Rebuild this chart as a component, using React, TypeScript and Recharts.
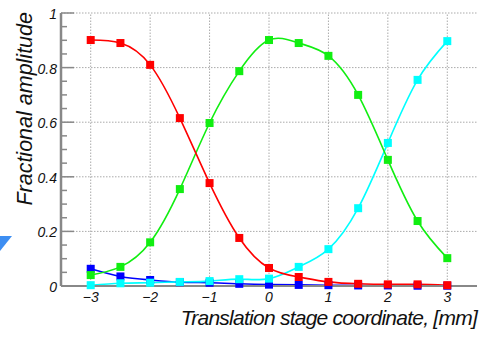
import React from "react";
import { LineChart, Line, XAxis, YAxis, ReferenceLine } from "recharts";

const xs = [-3, -2.5, -2, -1.5, -1, -0.5, 0, 0.5, 1, 1.5, 2, 2.5, 3];
const red = [0.901, 0.89, 0.81, 0.615, 0.377, 0.176, 0.066, 0.033, 0.015, 0.008, 0.006, 0.006, 0.003];
const green = [0.04, 0.07, 0.16, 0.355, 0.597, 0.787, 0.901, 0.89, 0.843, 0.7, 0.462, 0.238, 0.102];
const cyan = [0.003, 0.01, 0.012, 0.015, 0.018, 0.025, 0.027, 0.07, 0.135, 0.285, 0.524, 0.755, 0.897];
const blue = [0.063, 0.035, 0.022, 0.014, 0.012, 0.008, 0.005, 0.004, 0.003, 0.002, 0.002, 0.001, 0.001];

const xTicks = [-3, -2, -1, 0, 1, 2, 3];
const yMajor = [0, 0.2, 0.4, 0.6, 0.8, 1];
const yMinor = [0, 0.05, 0.1, 0.15, 0.2, 0.25, 0.3, 0.35, 0.4, 0.45, 0.5, 0.55, 0.6, 0.65, 0.7, 0.75, 0.8, 0.85, 0.9, 0.95, 1];

const data = xs.map((x, i) => ({ x, red: red[i], green: green[i], cyan: cyan[i], blue: blue[i] }));

const font = "'Liberation Sans', Arial, sans-serif";

const fmtY = (v: number) => {
  const r = Math.round(v * 100) / 100;
  return r === 0 ? "0" : r === 1 ? "1" : String(r);
};

const YTick = (props: any) => {
  const { x, y, payload } = props;
  const v = payload.value;
  const major = yMajor.some((m) => Math.abs(m - v) < 1e-6);
  return (
    <g>
      <line x1={61} x2={61 + (major ? 13 : 6)} y1={y} y2={y} stroke="#888" strokeWidth={1.5} />
      {major && (
        <text x={57} y={y} dy={6} textAnchor="end" fontFamily={font} fontStyle="italic" fontSize={14} fill="#111">
          {fmtY(v)}
        </text>
      )}
    </g>
  );
};

const XTick = (props: any) => {
  const { x, payload } = props;
  const v = payload.value;
  const label = v < 0 ? "\u2212" + Math.abs(v) : String(v);
  return (
    <text x={x} y={302} textAnchor="middle" fontFamily={font} fontStyle="italic" fontSize={14} fill="#111">
      {label}
    </text>
  );
};

const Square = (color: string) => (props: any) => {
  const { cx, cy } = props;
  if (cx == null || cy == null) return <g />;
  return <rect x={cx - 4} y={cy - 4} width={8} height={8} fill={color} />;
};

export default function App() {
  const series: [string, string][] = [
    ["blue", "#0000ff"],
    ["cyan", "#00ffff"],
    ["green", "#11ee11"],
    ["red", "#ff0000"],
  ];
  return (
    <div style={{ position: "absolute", left: 0, top: 0, width: 481, height: 337, background: "#fff" }}>
      <LineChart width={481} height={337} data={data} margin={{ top: 13, right: 4, bottom: 0, left: 0 }}>
        <XAxis
          dataKey="x"
          type="number"
          domain={[-3.5, 3.5]}
          ticks={xTicks}
          tick={<XTick />}
          tickLine={false}
          tickSize={0}
          tickMargin={0}
          axisLine={{ stroke: "#888", strokeWidth: 2 }}
          height={51}
          allowDataOverflow
        />
        <YAxis
          type="number"
          domain={[0, 1]}
          ticks={yMinor}
          tick={<YTick />}
          tickLine={false}
          axisLine={{ stroke: "#888", strokeWidth: 2.5 }}
          width={61}
          interval={0}
        />
        {yMajor.filter((v) => v > 0).map((v) => (
          <ReferenceLine key={"h" + v} y={v} stroke="#aaa" strokeDasharray="1.5 1.5" strokeWidth={1} />
        ))}
        {xTicks.map((v) => (
          <ReferenceLine key={"v" + v} x={v} stroke="#aaa" strokeDasharray="1.5 1.5" strokeWidth={1} />
        ))}
        {series.map(([k, c]) => (
          <Line
            key={k}
            dataKey={k}
            type="natural"
            stroke={c}
            strokeWidth={1.6}
            dot={Square(c)}
            activeDot={false}
            isAnimationActive={false}
          />
        ))}
        <text
          x={477}
          y={325}
          textAnchor="end"
          fontFamily={font}
          fontStyle="italic"
          fontSize={21}
          letterSpacing={-0.75}
          fill="#111"
        >
          Translation stage coordinate, [mm]
        </text>
        <text
          transform="translate(32, 12) rotate(-90)"
          textAnchor="end"
          fontFamily={font}
          fontStyle="italic"
          fontSize={21.5}
          fill="#111"
        >
          Fractional amplitude
        </text>
      </LineChart>
      <svg style={{ position: "absolute", left: 0, top: 0 }} width={20} height={337}>
        <polygon points="0,236 12,236 0,251" fill="#3d8ef2" />
      </svg>
    </div>
  );
}
